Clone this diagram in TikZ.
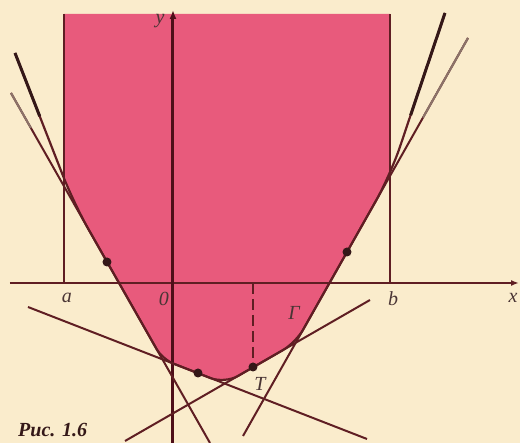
\documentclass[tikz,border=0pt]{standalone}
\usepackage{fontspec}
\setmainfont{Liberation Serif}
\usepackage{xcolor}
\usepackage{tikz}
\usetikzlibrary{calc,arrows.meta}
\definecolor{paper}{HTML}{FAECCC}
\definecolor{rosefill}{HTML}{E85A7C}
\definecolor{inkred}{HTML}{5F1E23}
\definecolor{inkdark}{HTML}{341818}
\definecolor{inkgray}{HTML}{8C7369}
\definecolor{axisred}{HTML}{4E0F19}
\definecolor{lettergray}{HTML}{4A3535}

% the curve Gamma: rounded polygon of its tangents
\newcommand{\gampath}{(ga) [rounded corners=30pt] -- (k1) [rounded corners=12pt] -- (k12) [rounded corners=15pt] -- (k23) -- (k34) [rounded corners=30pt] -- (k4) -- (gb)}

\begin{document}
\begin{tikzpicture}[x=1pt,y=1pt,
    tang/.style={draw=inkred,line width=2pt},
    edge/.style={draw=inkred,line width=1.6pt},
    lbl/.style={font=\itshape\fontsize{20}{20}\selectfont,text=lettergray,inner sep=0pt},
    dot/.style={circle,fill=inkdark,inner sep=0pt,minimum size=9pt}]
  \fill[paper] (-173,-160) rectangle (347,283);
  \useasboundingbox (-173,-160) rectangle (347,283);
  % tangent lines
  \coordinate (t1a) at (-162,190); \coordinate (t1b) at (37,-160);
  \coordinate (t2a) at (-145,-24); \coordinate (t2b) at (194,-156);
  \coordinate (t3a) at (-48,-158); \coordinate (t3b) at (197,-17);
  \coordinate (t4a) at (70,-153);  \coordinate (t4b) at (295,245);
  % ends of the curve
  \coordinate (ga) at (-158,230); \coordinate (gA) at (-115,120);
  \coordinate (gb) at (272,270);  \coordinate (gB) at (237,166);
  % corners
  \coordinate (k1)  at (intersection of ga--gA and t1a--t1b);
  \coordinate (k12) at (intersection of t1a--t1b and t2a--t2b);
  \coordinate (k23) at (intersection of t2a--t2b and t3a--t3b);
  \coordinate (k34) at (intersection of t3a--t3b and t4a--t4b);
  \coordinate (k4)  at (intersection of t4a--t4b and gb--gB);

  % region over [a,b]
  \begin{scope}
    \clip (-109,-200) rectangle (217,269);
    \fill[rosefill] \gampath -- (272,269) -- (-158,269) -- cycle;
  \end{scope}
  \draw[edge] (-109,0) -- (-109,269);
  \draw[edge] (217,0) -- (217,269);

  % axes
  \draw[inkred,line width=2.2pt,-{Latex[length=8pt,width=6pt]}] (-163,0) -- (346,0);
  \draw[axisred,line width=3pt,-{Latex[length=9pt,width=7pt]}] (0,-160) -- (0,273);

  % tangents
  \draw[tang] (t1a) -- (t1b);
  \draw[tang] (t2a) -- (t2b);
  \draw[tang] (t3a) -- (t3b);
  \draw[tang] (t4a) -- (t4b);
  \draw[inkgray,line width=2pt] (t1a) -- ($(t1a)!0.1!(t1b)$);
  \draw[inkgray,line width=2pt] (t4b) -- ($(t4b)!0.2!(t4a)$);

  % curve
  \draw[inkred,line width=2.2pt] \gampath;
  \draw[inkdark,line width=3pt] (ga) -- ($(ga)!0.42!(k1)$);
  \draw[inkdark,line width=3pt] (gb) -- ($(gb)!0.63!(k4)$);

  % points of contact
  \node[dot] (dL) at (-66,21) {};
  \node[dot] (dB) at (25,-90) {};
  \node[dot] (dT) at (80,-84) {};
  \node[dot] (dR) at (174,31) {};
  \draw[inkred,line width=2pt,dash pattern=on 11pt off 5pt] (80,0) -- (dT);

  % labels
  \node[lbl] (la) at (-106,-15) {a};
  \node[lbl] (lo) at (-9,-16) {0};
  \node[lbl] (lb) at (220,-16) {b};
  \node[lbl] (lx) at (340,-15) {x};
  \node[lbl] (ly) at (-13,262) {y};
  \node[lbl] (lT) at (87,-101) {T};
  \node[lbl] (lG) at (121,-30) {Γ};
  \node[anchor=south west,inner sep=0pt,text=inkdark,
        font=\bfseries\itshape\fontsize{20}{20}\selectfont] (cap) at (-155,-154) {Рис. 1.6};
\end{tikzpicture}
\end{document}
